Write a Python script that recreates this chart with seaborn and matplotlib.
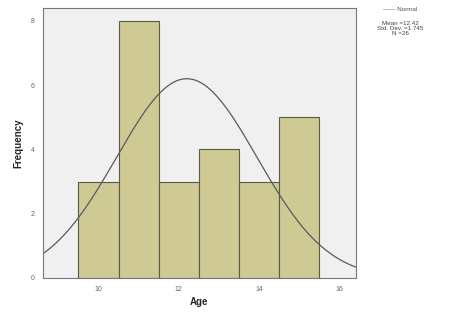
import numpy as np
import seaborn as sns
import matplotlib.pyplot as plt

ages = [10, 11, 12, 13, 14, 15]
counts = [3, 8, 3, 4, 3, 5]
mean_age = 12.42
sd_age = 1.745
n_total = 26
# normal curve as drawn in the picture
curve_center = 12.2
curve_peak = 6.2

sns.set_style("white")
plt.rcParams['font.family'] = ['Liberation Sans', 'DejaVu Sans']

fig = plt.figure(figsize=(4.75, 3.21), dpi=100)
ax = fig.add_axes([0.0905, 0.134, 0.658, 0.841])
ax.set_facecolor('#f0f0f0')

sns.histplot(x=ages, weights=counts, discrete=True, color='#cfc994',
             edgecolor='#5a5a48', linewidth=0.8, alpha=1, ax=ax)

xs = np.linspace(8.6, 16.4, 300)
ys = curve_peak * np.exp(-0.5 * ((xs - curve_center) / sd_age) ** 2)
sns.lineplot(x=xs, y=ys, color='#5a5a5a', linewidth=0.9, ax=ax)

ax.set_xlim(8.62, 16.4)
ax.set_ylim(0, 8.4)
ax.set_xticks([10, 12, 14, 16])
ax.set_yticks([0, 2, 4, 6, 8])
ax.tick_params(labelsize=5, colors='#666666', length=4, width=0.6, direction='out', pad=2)
for lab in ax.get_xticklabels() + ax.get_yticklabels():
    lab.set_color('#666666')
for s in ax.spines.values():
    s.set_color('#777777')
    s.set_linewidth(0.8)
ax.set_xlabel('Age', fontsize=7, fontweight='bold', labelpad=3)
ax.set_ylabel('Frequency', fontsize=7, fontweight='bold', labelpad=5)

fig.text(0.842, 0.978, '\u2014\u2014 Normal', fontsize=4.5, color='#555555', ha='center', va='top')
fig.text(0.842, 0.935, 'Mean =12.42\nStd. Dev. =1.745\nN =26', fontsize=4.5,
         color='#444444', ha='center', va='top', linespacing=1.0)

fig.savefig('out.png', dpi=100)
